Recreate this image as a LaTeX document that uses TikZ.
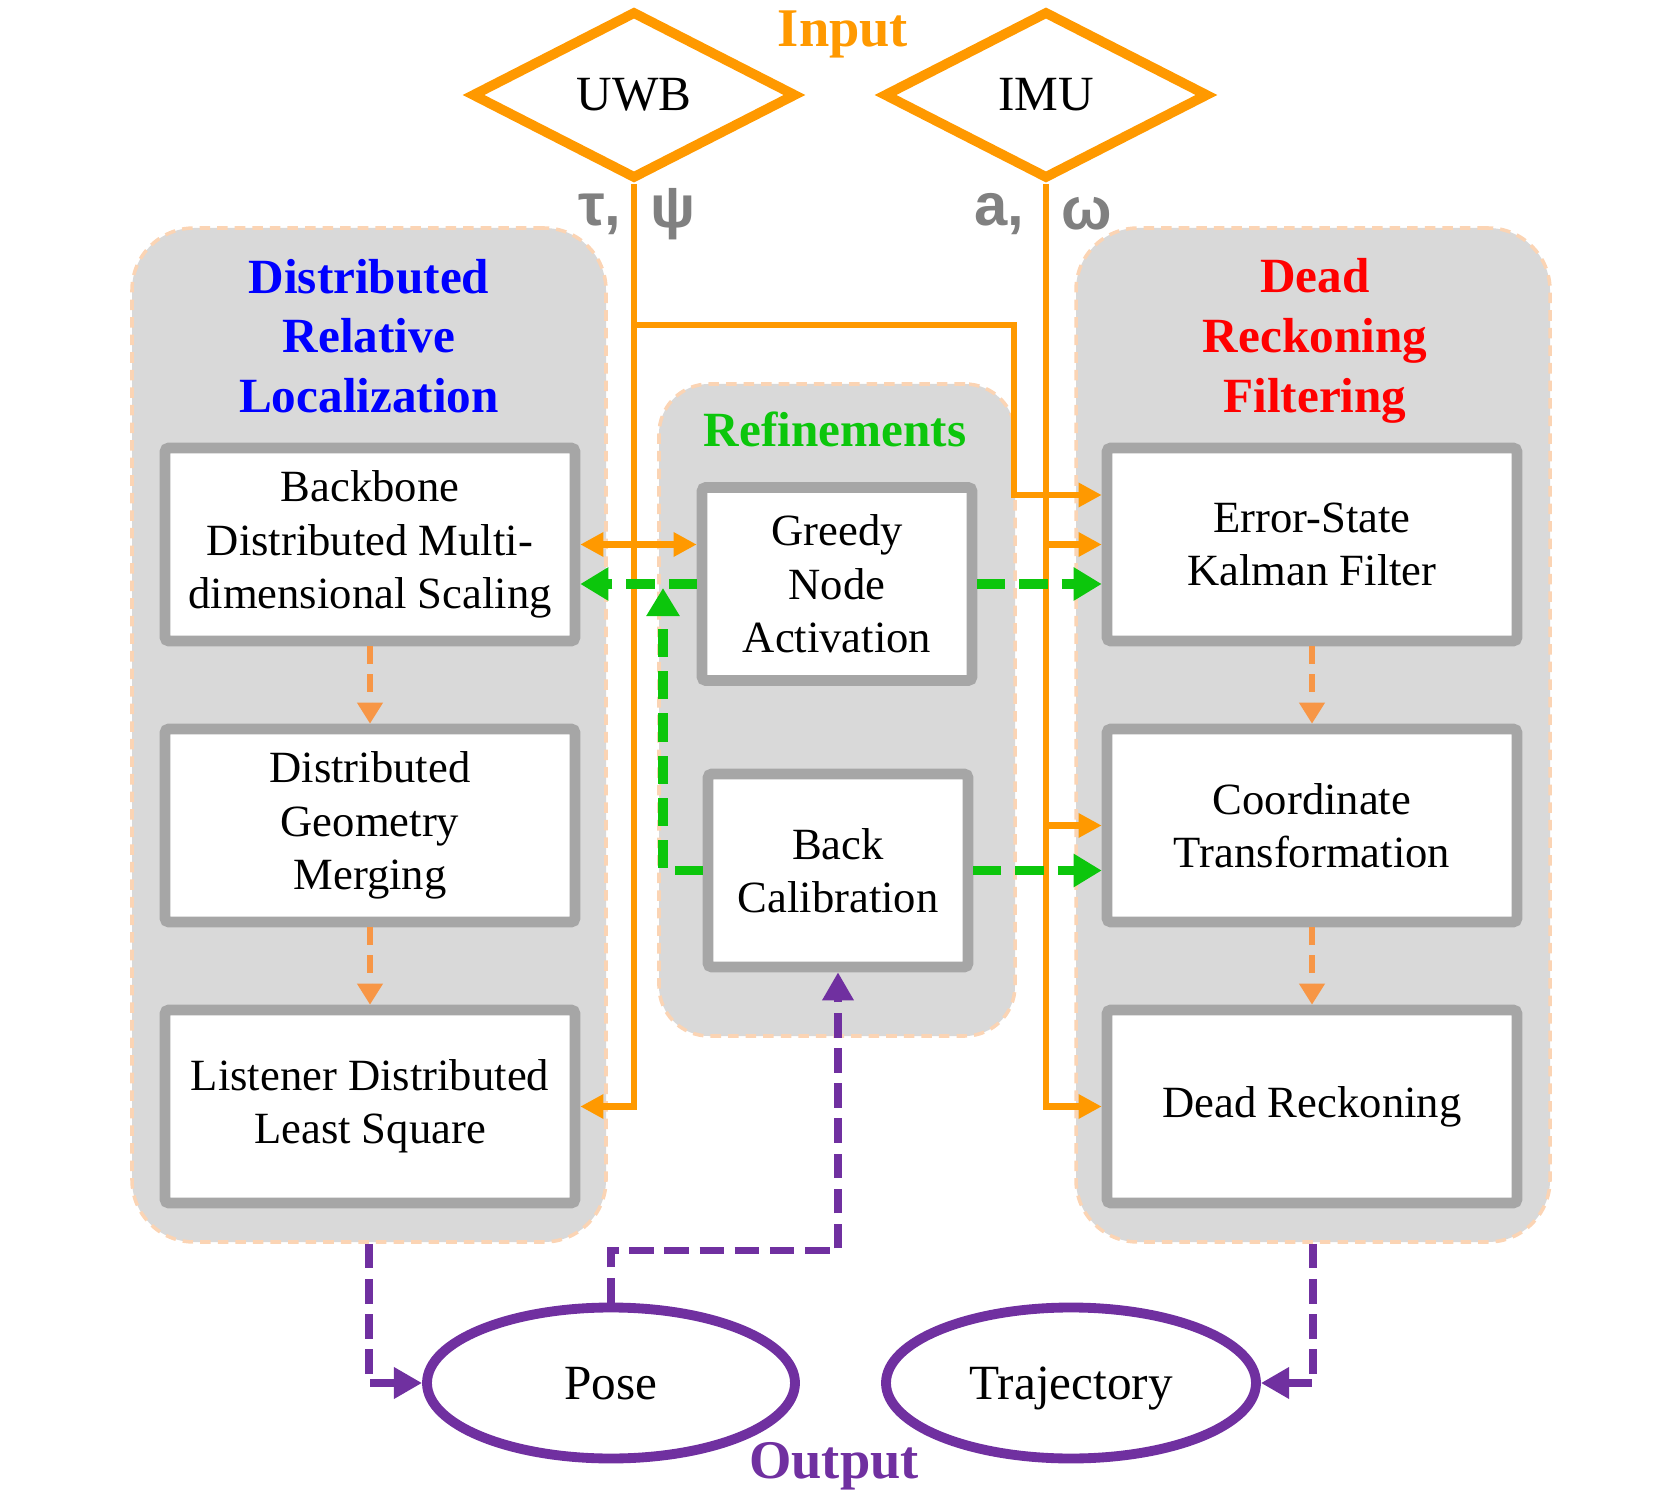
\documentclass[tikz,border=0pt]{standalone}
\usepackage{fontspec}
\setmainfont{Liberation Serif}
\newfontfamily\symfont{Liberation Sans}
\usetikzlibrary{shapes.geometric,arrows.meta}
\definecolor{inorange}{HTML}{FF9900}
\definecolor{flowor}{HTML}{F79646}
\definecolor{refgreen}{RGB}{12,198,12}
\definecolor{outpurple}{HTML}{7030A0}
\definecolor{boxgray}{HTML}{A6A6A6}
\definecolor{panelgray}{HTML}{D9D9D9}
\definecolor{panelline}{HTML}{FBD4B4}
\definecolor{symgray}{HTML}{808080}
\newcommand{\boxfont}{\fontsize{12.7}{15.2}\selectfont}
\newcommand{\headfont}{\fontsize{14}{17}\selectfont\bfseries}
\newcommand{\tagfont}{\fontsize{15.5}{17}\selectfont\bfseries}
\newcommand{\symsize}{\symfont\bfseries\fontsize{17}{17}\selectfont}

\begin{document}
\begin{tikzpicture}[x=1cm,y=1cm,
		panel/.style={draw=panelline,densely dashed,line width=1pt,fill=panelgray,rounded corners=0.62cm,inner sep=0pt},
		block/.style={draw=boxgray,line width=3pt,fill=white,rounded corners=1pt,minimum width=4.1cm,minimum height=1.93cm,inner sep=0pt,align=center,font=\boxfont},
		sensor/.style={diamond,draw=inorange,line width=2.8pt,fill=white,minimum width=3.25cm,minimum height=1.68cm,inner sep=0pt,font=\fontsize{14}{16}\selectfont},
		result/.style={ellipse,draw=outpurple,line width=2.8pt,fill=white,minimum height=1.51cm,inner sep=0pt,text height=2ex,text depth=0pt,font=\fontsize{14}{16}\selectfont},
		feed/.style={inorange,line width=1.8pt,>={Triangle[length=6.6pt,width=6.6pt]},->},
		refine/.style={refgreen,line width=2.8pt,dash pattern=on 8pt off 4pt,>={Triangle[length=8pt,width=9pt]},->},
		stage/.style={flowor,line width=1.6pt,dash pattern=on 5pt off 3pt,>={Triangle[length=6pt,width=7pt]},->},
		emit/.style={outpurple,line width=2.2pt,dash pattern=on 7pt off 3pt,>={Triangle[length=8pt,width=8.5pt]},->}]
	\useasboundingbox (0,0) rectangle (16.62,15);
	\node[panel,minimum width=4.74cm,minimum height=10.14cm] (drl) at (3.69,7.65) {};
	\node[panel,minimum width=4.74cm,minimum height=10.14cm] (drf) at (13.13,7.65) {};
	\node[panel,rounded corners=0.5cm,minimum width=3.56cm,minimum height=6.52cm] (rfn) at (8.37,7.90) {};
	\node[text=blue,font=\headfont,align=center] (drltitle) at (3.69,11.64) {Distributed\\Relative\\Localization};
	\node[text=red,font=\headfont,align=center] (drftitle) at (13.15,11.59) {Dead\\Reckoning\\Filtering};
	\node[text=refgreen,font=\headfont] (rfntitle) at (8.35,10.71) {Refinements};
	\node[block] (lb1) at (3.70,9.555) {Backbone\\Distributed Multi-\\dimensional Scaling};
	\node[block] (lb2) at (3.70,6.745) {Distributed\\Geometry\\Merging};
	\node[block] (lb3) at (3.70,3.935) {Listener Distributed\\Least Square};
	\node[block] (rb1) at (13.12,9.555) {Error-State\\Kalman Filter};
	\node[block] (rb2) at (13.12,6.745) {Coordinate\\Transformation};
	\node[block] (rb3) at (13.12,3.935) {Dead Reckoning};
	\node[block,minimum width=2.7cm] (gna) at (8.37,9.16) {Greedy\\Node\\Activation};
	\node[block,minimum width=2.6cm] (bcal) at (8.38,6.295) {Back\\Calibration};
	\node[sensor] (uwb) at (6.34,14.05) {UWB};
	\node[sensor] (imu) at (10.46,14.05) {IMU};
	\node[text=inorange,font=\tagfont] (intag) at (8.43,14.66) {Input};
	\node[text=symgray,font=\symsize,anchor=east,inner sep=0pt] (tau) at (6.22,12.86) {τ,};
	\node[text=symgray,font=\symsize,anchor=west,inner sep=0pt] (psi) at (6.50,12.86) {ψ};
	\node[text=symgray,font=\symsize,anchor=east,inner sep=0pt] (acc) at (10.25,12.86) {a,};
	\node[text=symgray,font=\symsize,anchor=west,inner sep=0pt] (omg) at (10.61,12.86) {ω};
	\node[result,minimum width=3.68cm] (pose) at (6.11,1.17) {Pose};
	\node[result,minimum width=3.7cm] (traj) at (10.71,1.17) {Trajectory};
	\node[text=outpurple,font=\tagfont] (outtag) at (8.34,0.34) {Output};
	\coordinate (uwbsplit) at (6.34,11.75);
	\coordinate (uwbbend) at (10.14,10.05);
	\coordinate (calup) at (6.63,9.12);
	\draw[feed] (uwb.south) |- (lb3.east);
	\draw[feed] (uwbsplit) -| (uwbbend) -- (uwbbend -| rb1.west);
	\draw[feed,<->] (lb1.east) -- (lb1.east -| gna.west);
	\draw[feed] (imu.south) |- (rb3.west);
	\draw[feed] (imu.south |- rb1.west) -- (rb1.west);
	\draw[feed] (imu.south |- rb2.west) -- (rb2.west);
	\draw[refine] (gna.west) -- (gna.west -| lb1.east);
	\draw[refine] (bcal.west) -| (calup);
	\draw[refine] (gna.east) -- (gna.east -| rb1.west);
	\draw[refine] (bcal.east) -- (bcal.east -| rb2.west);
	\draw[stage] (lb1.south) -- (lb2.north);
	\draw[stage] (lb2.south) -- (lb3.north);
	\draw[stage] (rb1.south) -- (rb2.north);
	\draw[stage] (rb2.south) -- (rb3.north);
	\draw[emit] (drl.south) |- (pose.west);
	\draw[emit] (drf.south) |- (traj.east);
	\draw[emit] (pose.north) -- ++(0,0.52) -| (bcal.south);
\end{tikzpicture}
\end{document}
